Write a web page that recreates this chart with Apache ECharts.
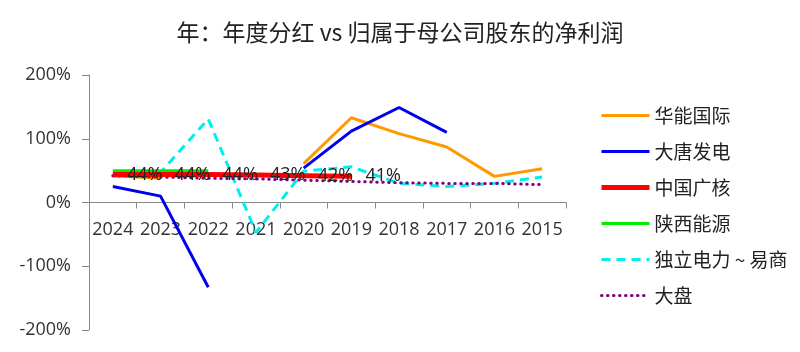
<!DOCTYPE html>
<html>
<head>
<meta charset="utf-8">
<script src="https://cdn.jsdelivr.net/npm/echarts@6/dist/echarts.min.js"></script>
<style>
  html, body { margin: 0; padding: 0; background: #fff; }
  #chart { width: 800px; height: 352px; }
</style>
</head>
<body>
<div id="chart"></div>
<script>
const years = ['2024', '2023', '2022', '2021', '2020', '2019', '2018', '2017', '2016', '2015'];
const huaneng = [42, 38, null, null, 61, 133, 108, 87, 41, 53];
const datang = [25, 10, -133, null, 54, 112, 149, 110, null, null];
const cgn = [44, 44, 44, 43, 42, 41, null, null, null, null];
const shaanxi = [50, 50, 50, null, null, null, null, null, null, null];
const duli = [41, 47, 131, -47, 49, 56, 30, 25, 30, 40];
const dapan = [42, 40, 38, 37, 35, 33, 31, 30, 30, 28];

const cjk = "'Noto Sans CJK SC', sans-serif";
const latin = "'Open Sans', 'Noto Sans CJK SC', sans-serif";

let chart = echarts.init(document.getElementById('chart'));

let lineSeries = (name, data, color, width, type) => ({
	name: name,
	type: 'line',
	data: data,
	symbol: 'none',
	connectNulls: false,
	lineStyle: { color: color, width: width, type: type },
	itemStyle: { color: color }
});

// 中国广核 带数据标签
let cgnSeries = lineSeries('中国广核', cgn, '#ff0000', 5, 'solid');
cgnSeries.symbol = 'circle';
cgnSeries.symbolSize = 0.1;
cgnSeries.showSymbol = true;
cgnSeries.label = {
	show: true,
	position: 'right',
	distance: 14,
	fontSize: 18,
	color: '#222',
	fontFamily: latin,
	formatter: p => p.value + '%'
};
cgnSeries.z = 5;

let seriesList = [
	lineSeries('华能国际', huaneng, '#ff9900', 3, 'solid'),
	lineSeries('大唐发电', datang, '#0000ee', 3, 'solid'),
	cgnSeries,
	lineSeries('陕西能源', shaanxi, '#00ee00', 3, 'solid'),
	lineSeries('独立电力 ~ 易商', duli, '#00eeee', 3, [9, 6]),
	lineSeries('大盘', dapan, '#800080', 3, [0.5, 5.5])
];
seriesList[3].z = 4;
seriesList[5].lineStyle.cap = 'round';

let option = {
	animation: false,
	title: {
		text: '年：年度分红 vs 归属于母公司股东的净利润',
		left: 'center',
		top: 16,
		textStyle: { fontSize: 23, fontWeight: 'normal', color: '#222', fontFamily: cjk }
	},
	legend: {
		orient: 'vertical',
		left: 594,
		top: 101,
		itemWidth: 48,
		itemHeight: 14,
		itemGap: 17,
		itemStyle: { opacity: 0 },
		textStyle: { fontSize: 19, color: '#222', fontFamily: cjk },
		data: seriesList.map(s => ({
			name: s.name,
			lineStyle: { width: s.lineStyle.width, type: s.lineStyle.type, cap: s.lineStyle.cap || 'butt' }
		}))
	},
	grid: { left: 89, right: 234, top: 75, bottom: 22, containLabel: false },
	xAxis: {
		type: 'category',
		data: years,
		boundaryGap: true,
		position: 'bottom',
		offset: -127.5,
		axisLine: { onZero: false, lineStyle: { color: '#888' } },
		axisTick: { show: true, length: 6, lineStyle: { color: '#888' } },
		axisLabel: { fontSize: 18, color: '#333', fontFamily: latin, margin: 18, interval: 0 },
		splitLine: { show: false }
	},
	yAxis: {
		type: 'value',
		min: -200,
		max: 200,
		interval: 100,
		axisLine: { show: true, lineStyle: { color: '#888' } },
		axisTick: { show: true, length: 7, lineStyle: { color: '#888' } },
		axisLabel: { fontSize: 18, color: '#333', fontFamily: latin, margin: 18, formatter: '{value}%' },
		splitLine: { show: false }
	},
	series: seriesList
};
chart.setOption(option);
</script>
</body>
</html>
